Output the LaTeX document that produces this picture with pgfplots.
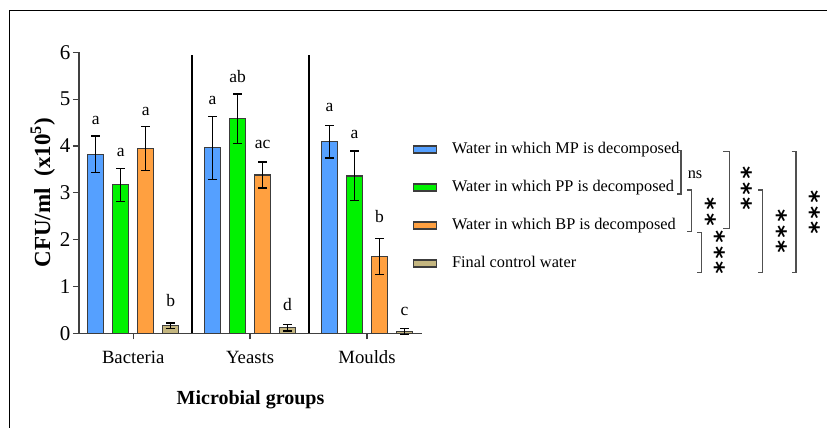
\documentclass[border=0pt]{standalone}
\usepackage{pgfplots}
\pgfplotsset{compat=1.18}
\usepackage{pgfplotstable}
\usepackage{fontspec}
\setmainfont{Liberation Serif}
\newfontfamily\astfont{DejaVu Sans}
\definecolor{cMP}{RGB}{85,160,255}
\definecolor{cPP}{RGB}{0,242,0}
\definecolor{cBP}{RGB}{255,160,64}
\definecolor{cCT}{RGB}{196,182,128}
\definecolor{bargray}{RGB}{60,60,60}
\definecolor{axgray}{RGB}{64,64,64}
\definecolor{brkgray}{RGB}{80,80,80}

\pgfplotstableread{
x y e
0 3.82 0.39
1 3.96 0.67
2 4.09 0.35
}\tMP
\pgfplotstableread{
x y e
0 3.17 0.35
1 4.58 0.53
2 3.36 0.53
}\tPP
\pgfplotstableread{
x y e
0 3.94 0.47
1 3.38 0.28
2 1.64 0.39
}\tBP
\pgfplotstableread{
x y e
0 0.16 0.06
1 0.12 0.07
2 0.04 0.06
}\tCT

\begin{document}
\begin{tikzpicture}
\path[use as bounding box] (0pt,0pt) rectangle (827pt,-428pt);
\draw[line width=1pt] (9pt,-428pt) -- (9pt,-11pt) -- (827pt,-11pt);
\begin{axis}[
  at={(79pt,-333.3pt)}, anchor=south west,
  scale only axis, width=343pt, height=281pt,
  xmin=-0.463, xmax=2.47, ymin=0, ymax=6,
  enlargelimits=false,
  ybar=9pt, bar width=16pt,
  axis x line*=bottom, axis y line*=left,
  axis line style={draw=axgray, line width=1.2pt},
  tick align=outside, major tick length=6pt,
  tick style={draw=axgray, line width=1.2pt},
  xtick={0,1,2}, xticklabels={Bacteria,Yeasts,Moulds},
  ytick={0,1,2,3,4,5,6},
  /pgf/number format/assume math mode=true,
  xticklabel style={font=\fontsize{18.7}{20}\selectfont, yshift=-8pt},
  yticklabel style={font=\fontsize{21}{22}\selectfont, xshift=1pt},
  xlabel={\textbf{Microbial groups}},
  xlabel style={font=\fontsize{20}{22}\selectfont, yshift=-20pt},
  ylabel={\textbf{CFU/ml\ \ (x10\textsuperscript{5})}},
  ylabel style={font=\fontsize{23}{24}\selectfont, yshift=-2pt},
  legend cell align=left,
  legend style={at={(0.973,0.680)}, anchor=north west, draw=none, fill=none,
    inner sep=0pt, row sep=24pt, column sep=15pt,
    nodes={inner sep=0pt, text height=11pt, text depth=3pt,
      font=\fontsize{16.3}{18}\selectfont}},
  every axis plot post/.append style={
    legend image code/.code={\draw[##1, line width=1.2pt] (0pt,-3.5pt) rectangle (23pt,3.5pt);}},
  clip=false,
]
\pgfplotsset{errst/.style={error bars/.cd, y dir=both, y explicit,
  error bar style={black, line width=1.3pt},
  error mark options={black, line width=1.3pt, mark size=4.5pt, rotate=90}}}
\addplot[fill=cMP, draw=bargray, line width=1.2pt, errst] table[x=x,y=y,y error=e]{\tMP};
\addplot[fill=cPP, draw=bargray, line width=1.2pt, errst] table[x=x,y=y,y error=e]{\tPP};
\addplot[fill=cBP, draw=bargray, line width=1.2pt, errst] table[x=x,y=y,y error=e]{\tBP};
\addplot[fill=cCT, draw=bargray, line width=1.2pt, errst] table[x=x,y=y,y error=e]{\tCT};
\legend{Water in which MP is decomposed, Water in which PP is decomposed, Water in which BP is decomposed, Final control water}
% group separators
\draw[black, line width=2pt] (axis cs:0.5,0) -- (axis cs:0.5,5.94);
\draw[black, line width=2pt] (axis cs:1.5,0) -- (axis cs:1.5,5.94);
% significance letters
\begin{scope}[every node/.style={font=\fontsize{17.5}{18}\selectfont, anchor=base}]
\node[xshift=-37.5pt] at (axis cs:0,4.45) {a};
\node[xshift=-12.5pt] at (axis cs:0,3.77) {a};
\node[xshift=12.5pt] at (axis cs:0,4.66) {a};
\node[xshift=37.5pt] at (axis cs:0,0.57) {b};
\node[xshift=-37.5pt] at (axis cs:1,4.88) {a};
\node[xshift=-12.5pt] at (axis cs:1,5.36) {ab};
\node[xshift=12.5pt] at (axis cs:1,3.95) {ac};
\node[xshift=37.5pt] at (axis cs:1,0.48) {d};
\node[xshift=-37.5pt] at (axis cs:2,4.73) {a};
\node[xshift=-12.5pt] at (axis cs:2,4.16) {a};
\node[xshift=12.5pt] at (axis cs:2,2.36) {b};
\node[xshift=37.5pt] at (axis cs:2,0.39) {c};
\end{scope}
\end{axis}
\begin{scope}[x=1pt,y=1pt]
\tikzset{brk/.style={draw=brkgray, line width=1.3pt},
  ast/.style={font=\astfont\bfseries\fontsize{24}{24}\selectfont, anchor=center, inner sep=0pt, rotate=-90}}
\draw[brk] (677,-150.7) -- (681,-150.7) -- (681,-194) -- (677,-194);
\node[font=\fontsize{16.3}{18}\selectfont] at (695,-175) {ns};
\draw[brk] (687,-190) -- (691.7,-190) -- (691.7,-231.7) -- (687,-231.7);
\draw[brk] (697,-232.7) -- (701.7,-232.7) -- (701.7,-272.7) -- (697,-272.7);
\draw[brk] (723,-151.7) -- (729.3,-151.7) -- (729.3,-228.3) -- (723,-228.3);
\draw[brk] (758,-190) -- (762.7,-190) -- (762.7,-272.7) -- (758,-272.7);
\draw[brk] (791.7,-151.7) -- (796,-151.7) -- (796,-272.7) -- (791.7,-272.7);
\node[ast] at (707,-211.5) {*\kern3pt*};
\node[ast] at (716,-252.7) {*\kern3pt*\kern3pt*};
\node[ast] at (743.7,-188.5) {*\kern3pt*\kern3pt*};
\node[ast] at (778,-231.3) {*\kern3pt*\kern3pt*};
\node[ast] at (811.3,-212.3) {*\kern3pt*\kern3pt*};
\end{scope}
\end{tikzpicture}
\end{document}
